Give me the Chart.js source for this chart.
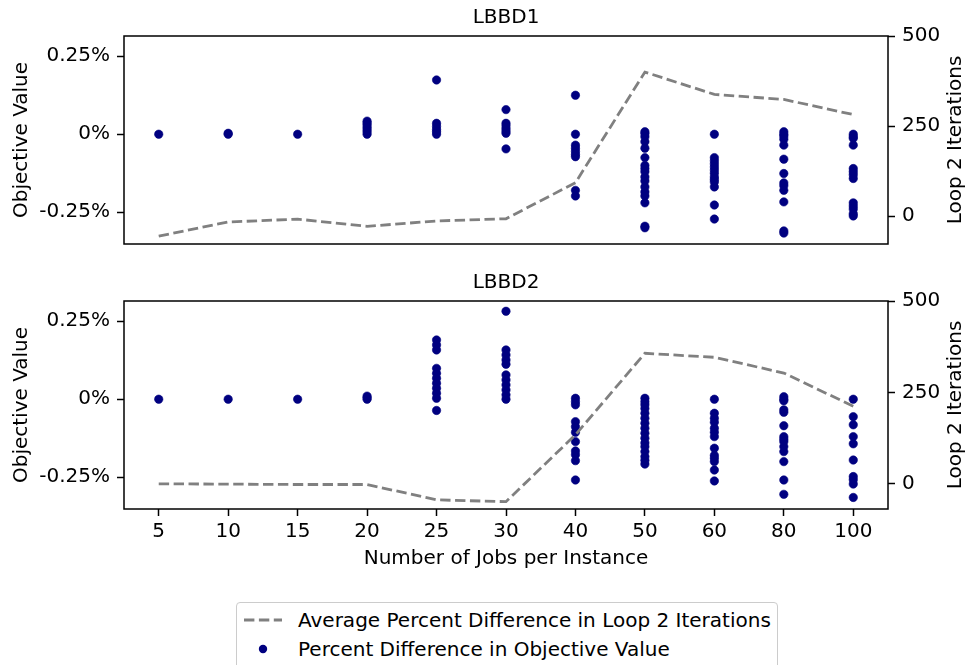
<!DOCTYPE html>
<html>
<head>
<meta charset="utf-8">
<script src="https://cdn.jsdelivr.net/npm/chart.js@4/dist/chart.umd.min.js"></script>
<style>
  body { margin: 0; background: #fff; }
  #wrap { position: relative; width: 969px; height: 665px; overflow: hidden; font-family: 'DejaVu Sans', sans-serif; }
  canvas { position: absolute; left: 0; }
  #c1 { top: 0; }
  #c2 { top: 265px; }
  #legend { position: absolute; left: 236px; top: 602px; width: 540px; height: 90px; border: 1px solid #cccccc; border-radius: 4px; background: #fff; }
  #legend .item { position: absolute; left: 61px; font-size: 20px; line-height: 24px; color: #000; white-space: nowrap; }
  #legend svg { position: absolute; left: 0; }
</style>
</head>
<body>
<div id="wrap">
  <canvas id="c1" width="969" height="265"></canvas>
  <canvas id="c2" width="969" height="335"></canvas>
  <div id="legend"></div>
</div>
<script>
// categories on the x axis
const jobs = ['5', '10', '15', '20', '25', '30', '40', '50', '60', '80', '100'];

// average percent difference in loop 2 iterations (right axis)
const lbbd1Iter = [-55, -16, -8, -28, -13, -7, 93, 400, 338, 324, 282];
const lbbd2Iter = [0, -1, -2, -2, -44, -49, 134, 357, 346, 303, 212];

// percent difference in objective value per instance (left axis, in %)
const lbbd1Obj = [
  [0],
  [0, 0.003],
  [0],
  [0, 0.008, 0.015, 0.022, 0.03, 0.036, 0.042],
  [0.174, 0.035, 0.025, 0.015, 0.008, 0],
  [0.079, 0.035, 0.027, 0.018, 0.01, 0.003, -0.047],
  [0.125, 0, -0.035, -0.045, -0.055, -0.065, -0.072, -0.18, -0.198],
  [0.008, 0.002, -0.008, -0.024, -0.045, -0.075, -0.1, -0.11, -0.12, -0.137, -0.15, -0.169, -0.185, -0.198, -0.22, -0.295, -0.3],
  [0, -0.075, -0.085, -0.095, -0.105, -0.115, -0.125, -0.137, -0.145, -0.153, -0.169, -0.227, -0.272],
  [0.008, 0, -0.006, -0.016, -0.035, -0.08, -0.126, -0.156, -0.165, -0.18, -0.217, -0.31, -0.317],
  [0, -0.008, -0.013, -0.035, -0.11, -0.12, -0.13, -0.142, -0.22, -0.23, -0.24, -0.255, -0.262]
];
const lbbd2Obj = [
  [0],
  [0],
  [0],
  [0, 0.005, 0.01],
  [0.19, 0.174, 0.158, 0.099, 0.083, 0.067, 0.051, 0.035, 0.019, 0.003, -0.036],
  [0.282, 0.158, 0.142, 0.126, 0.112, 0.078, 0.062, 0.046, 0.03, 0.014, 0],
  [0.003, -0.008, -0.018, -0.072, -0.088, -0.106, -0.136, -0.166, -0.178, -0.197, -0.259],
  [0.003, -0.008, -0.018, -0.03, -0.045, -0.061, -0.077, -0.093, -0.109, -0.125, -0.14, -0.152, -0.168, -0.184, -0.196, -0.208],
  [0, -0.045, -0.061, -0.074, -0.093, -0.106, -0.12, -0.157, -0.18, -0.189, -0.2, -0.227, -0.262],
  [0.008, 0, -0.005, -0.034, -0.042, -0.085, -0.12, -0.128, -0.136, -0.152, -0.168, -0.2, -0.259, -0.305],
  [0, -0.056, -0.082, -0.12, -0.143, -0.195, -0.248, -0.258, -0.272, -0.315]
];

// tick labels
const objTicks = [-0.25, 0, 0.25];
const objTickLabels = ['-0.25%', '0%', '0.25%'];
const iterTicks = [0, 250, 500];
const iterTickLabels = ['0', '250', '500'];

const lineLabel = 'Average Percent Difference in Loop 2 Iterations';
const dotLabel = 'Percent Difference in Objective Value';
const lineColor = '#808080';
const dotColor = '#000080';
const FONT = 20;

Chart.defaults.font.family = "'DejaVu Sans', sans-serif";
Chart.defaults.font.size = FONT;
Chart.defaults.color = '#000';

// box round the plot + right axis label reading upward
const frame = {
  id: 'frame',
  afterDraw(chart, args, opts) {
    const { ctx, chartArea: a } = chart;
    ctx.save();
    ctx.strokeStyle = '#000';
    ctx.lineWidth = 1.5;
    ctx.strokeRect(a.left, a.top, a.right - a.left, a.bottom - a.top);
    ctx.font = FONT + "px 'DejaVu Sans'";
    ctx.fillStyle = '#000';
    ctx.textAlign = 'center';
    ctx.textBaseline = 'middle';
    ctx.translate(956, (a.top + a.bottom) / 2);
    ctx.rotate(-Math.PI / 2);
    ctx.fillText(opts.text, 0, 0);
    ctx.restore();
  }
};

const tickGrid = { drawOnChartArea: false, drawTicks: true, tickLength: 7, tickColor: '#000', tickWidth: 1.5, offset: false };

function makePanel(id, title, iter, obj, iterMin, showX) {
  const pts = [];
  obj.forEach((vals, i) => vals.forEach(v => pts.push({ x: jobs[i], y: v })));

  return new Chart(document.getElementById(id), {
    type: 'line',
    data: {
      labels: jobs,
      datasets: [
        {
          label: lineLabel,
          data: iter,
          yAxisID: 'y1',
          borderColor: lineColor,
          borderWidth: 2.8,
          borderDash: [10.4, 4.5],
          pointRadius: 0,
          fill: false,
          tension: 0
        },
        {
          type: 'scatter',
          label: dotLabel,
          data: pts,
          yAxisID: 'y',
          backgroundColor: dotColor,
          borderColor: dotColor,
          borderWidth: 0.6,
          pointRadius: 4.2
        }
      ]
    },
    options: {
      responsive: false,
      animation: false,
      events: [],
      layout: { padding: { bottom: showX ? 0 : 21 } },
      plugins: {
        legend: { display: false },
        tooltip: { enabled: false },
        title: { display: true, fullSize: false, text: title, font: { size: FONT, weight: 'normal' }, padding: { top: 6, bottom: 6 } },
        frame: { text: 'Loop 2 Iterations' }
      },
      scales: {
        x: {
          type: 'category',
          offset: true,
          display: showX,
          grid: tickGrid,
          border: { display: false },
          ticks: { padding: 4, maxRotation: 0, autoSkip: false },
          title: { display: showX, text: 'Number of Jobs per Instance', padding: { top: 0, bottom: 29 } },
          afterFit: s => { if (showX) s.height = 91; }
        },
        y: {
          position: 'left',
          min: -0.352,
          max: 0.315,
          grid: tickGrid,
          border: { display: false },
          afterBuildTicks: s => { s.ticks = objTicks.map(v => ({ value: v })); },
          ticks: { padding: 7, callback: v => objTickLabels[objTicks.indexOf(v)] },
          title: { display: true, text: 'Objective Value', padding: { top: 10, bottom: 0 } },
          afterFit: s => { s.width = 124; }
        },
        y1: {
          position: 'right',
          min: iterMin,
          max: 500,
          grid: tickGrid,
          border: { display: false },
          afterBuildTicks: s => { s.ticks = iterTicks.map(v => ({ value: v })); },
          ticks: { padding: 7, callback: v => iterTickLabels[iterTicks.indexOf(v)] },
          afterFit: s => { s.width = 81; }
        }
      }
    },
    plugins: [frame]
  });
}

makePanel('c1', 'LBBD1', lbbd1Iter, lbbd1Obj, -77, false);
makePanel('c2', 'LBBD2', lbbd2Iter, lbbd2Obj, -69, true);

// legend below the figure, two rows like the original
const legend = document.getElementById('legend');
legend.innerHTML =
  '<svg width="50" height="10" style="top:12px;left:6px">' +
  '<line x1="1" y1="5" x2="39" y2="5" stroke="' + lineColor + '" stroke-width="2.8" stroke-dasharray="10.4 4.5"/></svg>' +
  '<div class="item" style="top:5px">' + lineLabel + '</div>' +
  '<svg width="12" height="12" style="top:40px;left:20px">' +
  '<circle cx="6" cy="6" r="4.2" fill="' + dotColor + '"/></svg>' +
  '<div class="item" style="top:34px">' + dotLabel + '</div>';
</script>
</body>
</html>
